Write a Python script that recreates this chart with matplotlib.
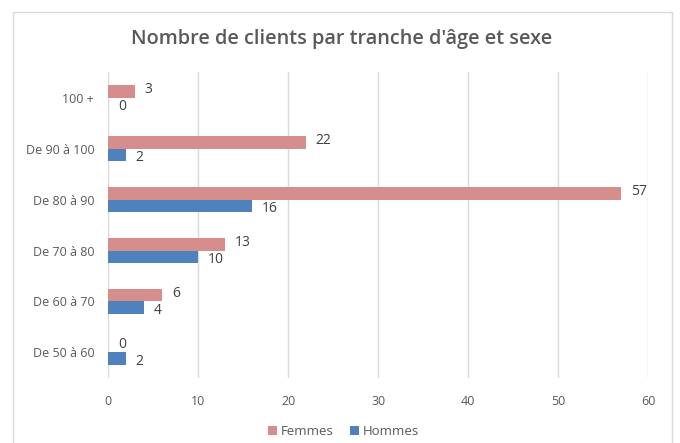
import matplotlib.pyplot as plt
from matplotlib.patches import Rectangle
import numpy as np

# Data
categories = ['De 50 à 60', 'De 60 à 70', 'De 70 à 80', 'De 80 à 90', 'De 90 à 100', '100 +']
femmes = [0, 6, 13, 57, 22, 3]
hommes = [2, 4, 10, 16, 2, 0]

c_f = '#D58E8C'
c_h = '#4F81BD'
txt = '#404040'

plt.rcParams['font.family'] = ['Open Sans', 'DejaVu Sans']

fig = plt.figure(figsize=(6.8, 4.43), dpi=100)
ax = fig.add_axes([0.159, 0.147, 0.794, 0.69])

# chart frame
fig.patches.append(Rectangle((13 / 680, -0.01), (672 - 13) / 680, 1 - 12 / 443 + 0.01,
                             transform=fig.transFigure, fill=False,
                             edgecolor='#D9D9D9', linewidth=1))

y = np.arange(len(categories))
h = 0.25
ax.barh(y + h / 2, femmes, height=h, color=c_f, label='Femmes', zorder=3)
ax.barh(y - h / 2, hommes, height=h, color=c_h, label='Hommes', zorder=3)

for i in range(len(categories)):
    ax.annotate(str(femmes[i]), (femmes[i], y[i] + h / 2), xytext=(7, 1),
                textcoords='offset points', va='center', ha='left',
                fontsize=10, color=txt)
    ax.annotate(str(hommes[i]), (hommes[i], y[i] - h / 2), xytext=(7, -2),
                textcoords='offset points', va='center', ha='left',
                fontsize=10, color=txt)

ax.set_xlim(0, 60)
ax.set_ylim(-0.5, len(categories) - 0.5)
ax.set_xticks(range(0, 61, 10))
ax.set_yticks(y)
ax.set_yticklabels(categories)
ax.tick_params(axis='both', length=0, labelsize=9, labelcolor='#595959')
ax.tick_params(axis='x', pad=12)
ax.tick_params(axis='y', pad=10)
ax.grid(axis='x', color='#D9D9D9', linewidth=1, zorder=0)
for s in ax.spines.values():
    s.set_visible(False)

fig.suptitle("Nombre de clients par tranche d'âge et sexe", x=0.503, y=0.935,
             fontsize=14.3, fontweight='semibold', color='#595959')

fig.legend(loc='upper center', bbox_to_anchor=(0.505, 0.068), ncol=2, frameon=False,
           fontsize=9.5, handlelength=0.7, handleheight=0.7, columnspacing=1.2,
           handletextpad=0.3, labelcolor='#595959')

fig.savefig('out.png', dpi=100)
